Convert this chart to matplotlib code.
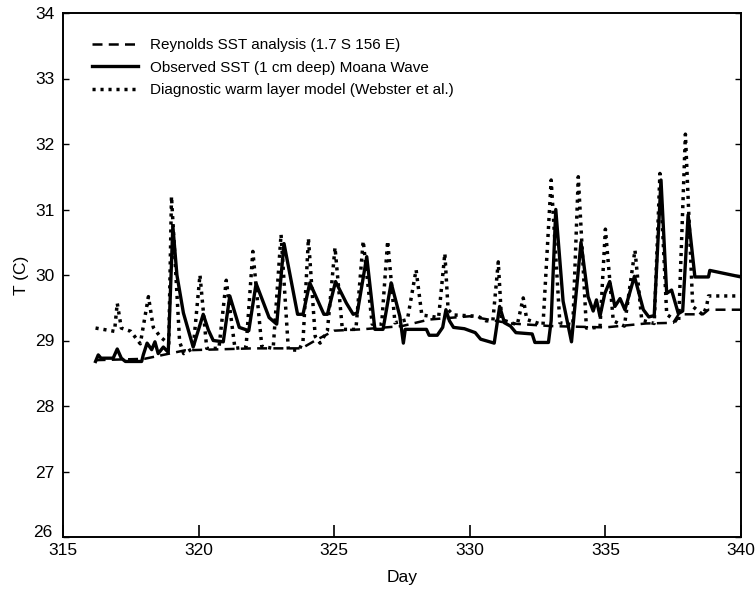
import matplotlib
matplotlib.use("Agg")
import matplotlib.pyplot as plt
from matplotlib.ticker import MultipleLocator
from matplotlib.transforms import ScaledTranslation

plt.rcParams['font.family'] = ['Liberation Sans', 'DejaVu Sans']

# Observed SST (1 cm deep) Moana Wave  -- solid
obs_day = [316.2, 316.3, 316.4, 316.5, 316.85, 317.0, 317.15, 317.3, 317.9, 317.96,
           318.1, 318.27, 318.39, 318.51, 318.7, 318.88, 319.05, 319.2, 319.44, 319.8,
           320.17, 320.36, 320.54, 320.91, 321.15, 321.5, 321.85, 322.12, 322.6, 322.88,
           323.15, 323.65, 323.85, 324.1, 324.62, 324.75, 325.05, 325.45, 325.7, 325.85,
           326.2, 326.5, 326.8, 327.1, 327.42, 327.55, 327.62, 328.4, 328.5, 328.8,
           329.0, 329.12, 329.25, 329.4, 329.8, 330.2, 330.4, 330.9, 331.1, 331.28,
           331.5, 331.7, 332.3, 332.4, 332.9, 333.0, 333.17, 333.44, 333.75, 334.1,
           334.36, 334.55, 334.67, 334.8, 334.98, 335.16, 335.35, 335.54, 335.72, 336.07,
           336.4, 336.6, 336.8, 337.05, 337.26, 337.44, 337.69, 337.85, 338.05, 338.3,
           338.8, 338.85, 340.0]
obs_T = [28.68, 28.78, 28.73, 28.73, 28.73, 28.87, 28.73, 28.68, 28.68, 28.78,
         28.96, 28.86, 28.98, 28.80, 28.90, 28.82, 30.75, 30.00, 29.42, 28.90,
         29.40, 29.16, 29.00, 28.98, 29.68, 29.20, 29.15, 29.87, 29.35, 29.25,
         30.48, 29.40, 29.40, 29.88, 29.40, 29.40, 29.90, 29.57, 29.40, 29.42,
         30.28, 29.17, 29.17, 29.88, 29.37, 28.96, 29.17, 29.17, 29.08, 29.08,
         29.20, 29.47, 29.30, 29.20, 29.18, 29.12, 29.02, 28.96, 29.52, 29.27,
         29.22, 29.12, 29.10, 28.97, 28.97, 29.30, 31.00, 29.60, 28.98, 30.50,
         29.67, 29.45, 29.62, 29.37, 29.72, 29.90, 29.52, 29.64, 29.47, 29.98,
         29.47, 29.36, 29.38, 31.45, 29.72, 29.77, 29.41, 29.45, 30.92, 29.97,
         29.97, 30.07, 29.97]

# Diagnostic warm layer model (Webster et al.) -- dotted
mod_day = [316.2, 316.9, 317.0, 317.15, 317.5, 317.72, 317.85, 318.15, 318.33, 318.6,
           318.9, 319.0, 319.3, 319.45, 319.8, 320.05, 320.3, 320.75, 321.02, 321.34,
           321.75, 322.0, 322.33, 322.75, 323.04, 323.31, 323.7, 323.85, 324.05, 324.3,
           324.48, 324.75, 325.03, 325.3, 325.8, 326.07, 326.4, 326.75, 326.97, 327.24,
           327.7, 328.02, 328.23, 328.85, 329.08, 329.2, 329.4, 330.3, 330.6, 330.85,
           331.05, 331.17, 331.75, 331.97, 332.1, 332.7, 333.0, 333.32, 333.8, 334.0,
           334.3, 334.8, 335.0, 335.29, 335.7, 336.09, 336.34, 336.8, 337.01, 337.26,
           337.7, 337.95, 338.22, 338.6, 338.73, 338.8, 340.0]
mod_T = [29.19, 29.14, 29.57, 29.19, 29.14, 29.02, 28.95, 29.67, 29.20, 29.05,
         28.95, 31.20, 28.98, 28.80, 28.88, 30.00, 28.88, 28.88, 29.92, 28.88,
         28.90, 30.36, 28.91, 28.88, 30.62, 28.86, 28.85, 28.99, 30.56, 29.06,
         28.96, 29.15, 30.42, 29.17, 29.17, 30.52, 29.25, 29.25, 30.52, 29.27,
         29.32, 30.08, 29.39, 29.35, 30.33, 29.47, 29.39, 29.37, 29.30, 29.30,
         30.20, 29.32, 29.24, 29.65, 29.32, 29.24, 31.45, 29.27, 29.24, 31.50,
         29.19, 29.20, 30.70, 29.30, 29.22, 30.38, 29.31, 29.26, 31.55, 29.40,
         29.27, 32.15, 29.52, 29.39, 29.52, 29.68, 29.68]

# Reynolds SST analysis (1.7 S 156 E) -- dashed
rey_day = [316.2, 318.0, 319.5, 322.0, 323.8, 324.3, 325.0, 326.0, 327.5, 328.5,
           330.0, 331.5, 333.0, 335.0, 336.5, 337.5, 337.7, 338.6, 338.8, 340.0]
rey_T = [28.70, 28.72, 28.85, 28.88, 28.88, 29.00, 29.15, 29.17, 29.22, 29.32,
         29.37, 29.26, 29.22, 29.20, 29.26, 29.27, 29.40, 29.40, 29.47, 29.47]

labels = ["Reynolds SST analysis (1.7 S 156 E)",
          "Observed SST (1 cm deep) Moana Wave",
          "Diagnostic warm layer model (Webster et al.)"]

fig = plt.figure(figsize=(7.56, 5.94), dpi=100)
ax = fig.add_axes([63/756, 1-537/594, (741-63)/756, (537-13)/594])

ax.plot(rey_day, rey_T, color='black', lw=1.8, linestyle=(0, (4.0, 2.5)), label=labels[0])
ax.plot(obs_day, obs_T, color='black', lw=2.4, linestyle='-', label=labels[1])
ax.plot(mod_day, mod_T, color='black', lw=2.5, linestyle=(0, (0.9, 1.4)), label=labels[2])

ax.set_xlim(315, 340)
ax.set_ylim(26, 34)
ax.xaxis.set_major_locator(MultipleLocator(5))
ax.yaxis.set_major_locator(MultipleLocator(1))
ax.tick_params(axis='x', direction='in', length=9, width=1.2, pad=4, labelsize=12.5)
ax.tick_params(axis='y', direction='in', length=4, width=1.0, pad=6, labelsize=12.5, right=True)
for s in ax.spines.values():
    s.set_linewidth(1.4)

ax.set_xlabel("Day", fontsize=12.5, labelpad=9)
ax.set_ylabel("T (C)", fontsize=12.5, labelpad=3)

# nudge the lowest y tick label up so it doesn't collide with the first x tick label
fig.canvas.draw()
for lbl in ax.get_yticklabels():
    if lbl.get_text() == '26':
        lbl.set_transform(lbl.get_transform() + ScaledTranslation(-2/100, 6/100, fig.dpi_scale_trans))

leg = ax.legend(loc='upper left', bbox_to_anchor=(0.043, 0.952), frameon=False,
                fontsize=11, handlelength=3.0, handletextpad=0.8, labelspacing=0.55,
                borderpad=0, borderaxespad=0)

fig.savefig("out.png", dpi=100)
